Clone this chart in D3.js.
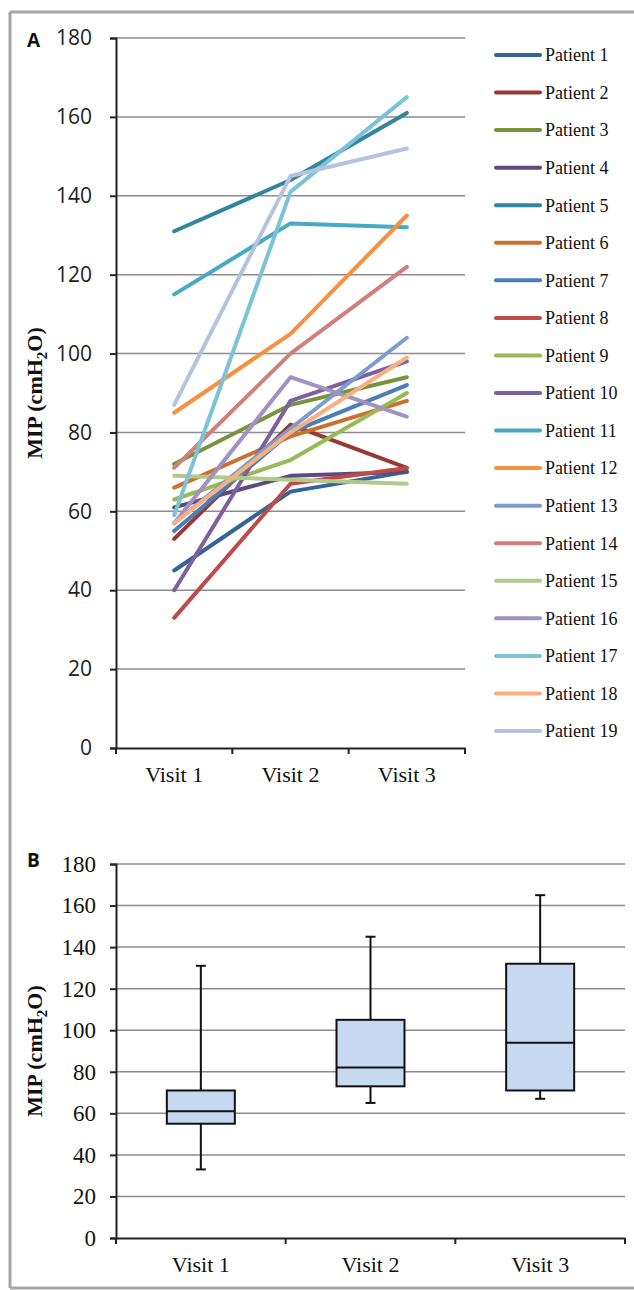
<!DOCTYPE html>
<html><head><meta charset="utf-8">
<script src="https://cdn.jsdelivr.net/npm/d3@7"></script>
<style>html,body{margin:0;padding:0;background:#fff;}svg{display:block;}</style>
</head><body>
<script>
const visits = ["Visit 1", "Visit 2", "Visit 3"];
const patients = ["Patient 1","Patient 2","Patient 3","Patient 4","Patient 5","Patient 6","Patient 7","Patient 8","Patient 9","Patient 10","Patient 11","Patient 12","Patient 13","Patient 14","Patient 15","Patient 16","Patient 17","Patient 18","Patient 19"];
const visit1 = [45,53,72,61,131,66,55,33,63,40,115,85,57,71,69,57,59,57,87];
const visit2 = [65,82,87,69,144,79,80,67,73,88,133,105,81,100,68,94,141,80,145];
const visit3 = [70,71,94,70,161,88,92,71,90,98,132,135,104,122,67,84,165,99,152];
const colors = ["#36639a","#963a37","#77933c","#5f4a7e","#31859c","#cc7030","#4a7ebb","#be4b48","#98b954","#7d60a0","#46aac5","#f59140","#7c9ccd","#d07f7d","#afca8a","#a291c2","#7cc3da","#f9b07e","#b5c3de"];
const yTicks = [0,20,40,60,80,100,120,140,160,180];
// box plot statistics per visit
const boxMin = [33,65,67];
const boxQ1 = [55,73,71];
const boxMedian = [61,82,94];
const boxQ3 = [71,105,132];
const boxMax = [131,145,165];

const W = 634, H = 1290;
const svg = d3.select("body").append("svg").attr("width", W).attr("height", H);

// frame
const frame = svg.append("g").attr("stroke", "#a6a6a6").attr("stroke-width", 3);
frame.append("line").attr("x1", 10).attr("y1", 12).attr("x2", 10).attr("y2", 1288);
frame.append("line").attr("x1", 10).attr("y1", 12).attr("x2", 634).attr("y2", 12);
frame.append("line").attr("x1", 10).attr("y1", 1288).attr("x2", 634).attr("y2", 1288);

function yTitle(g, cx, cy) {
  const t = g.append("text").attr("transform", `translate(${cx},${cy}) rotate(-90)`)
    .attr("text-anchor", "middle").attr("font-family", "'Liberation Serif','Times New Roman',serif")
    .attr("font-weight", "bold").attr("font-size", 22).attr("fill", "#111");
  t.append("tspan").text("MIP (cmH");
  t.append("tspan").attr("font-size", 15).attr("dy", 5).text("2");
  t.append("tspan").attr("dy", -5).text("O)");
}

// ---------- Panel A ----------
const A = {l: 116, r: 465, t: 38, b: 748};
const xA = d3.scaleBand().domain(visits).range([A.l, A.r]);
const yA = d3.scaleLinear().domain([0, 180]).range([A.b, A.t]);
const gA = svg.append("g");

gA.append("g").selectAll("line").data(yTicks.filter(d => d > 0)).join("line")
  .attr("x1", A.l).attr("x2", A.r).attr("y1", d => yA(d)).attr("y2", d => yA(d))
  .attr("stroke", "#8c8c8c").attr("stroke-width", 1.5);

const axYA = gA.append("g").attr("transform", `translate(${A.l},0)`)
  .call(d3.axisLeft(yA).tickValues(yTicks).tickSize(6).tickPadding(18));
axYA.select(".domain").attr("stroke", "#222").attr("stroke-width", 2);
axYA.selectAll(".tick line").attr("stroke", "#222").attr("stroke-width", 2);
axYA.selectAll(".tick text").attr("font-family", "'Open Sans',sans-serif").attr("font-size", 21).attr("fill", "#222");

const axXA = gA.append("g").attr("transform", `translate(0,${A.b})`)
  .call(d3.axisBottom(xA).tickSize(0).tickPadding(18));
axXA.select(".domain").attr("stroke", "#222").attr("stroke-width", 2);
axXA.selectAll(".tick text").attr("font-family", "'Liberation Serif','Times New Roman',serif").attr("font-size", 22).attr("fill", "#111");
gA.append("g").selectAll("line").data(visits.map(v => xA(v)).concat([A.r])).join("line")
  .attr("x1", d => d).attr("x2", d => d).attr("y1", A.b).attr("y2", A.b + 6)
  .attr("stroke", "#222").attr("stroke-width", 2);

const series = patients.map((p, i) => ({name: p, color: colors[i], values: [visit1[i], visit2[i], visit3[i]]}));
const lineGen = d3.line().x((d, j) => xA(visits[j]) + xA.bandwidth() / 2).y(d => yA(d));
gA.append("g").selectAll("path").data(series).join("path")
  .attr("d", d => lineGen(d.values)).attr("fill", "none")
  .attr("stroke", d => d.color).attr("stroke-width", 4).attr("stroke-linecap", "round").attr("stroke-linejoin", "round");

// legend
const legY = d3.scalePoint().domain(patients).range([55, 731]);
const leg = gA.append("g").selectAll("g").data(series).join("g")
  .attr("transform", d => `translate(0,${legY(d.name)})`);
leg.append("line").attr("x1", 496).attr("x2", 540).attr("y1", 0).attr("y2", 0)
  .attr("stroke", d => d.color).attr("stroke-width", 4).attr("stroke-linecap", "round");
leg.append("text").attr("x", 545).attr("y", 0).attr("dy", "0.35em")
  .attr("font-family", "'Liberation Serif','Times New Roman',serif").attr("font-size", 18).attr("fill", "#111")
  .text(d => d.name);

gA.append("text").attr("x", 27).attr("y", 47).attr("font-family", "'Open Sans',Arial,sans-serif")
  .attr("font-weight", "bold").attr("font-size", 19).attr("fill", "#111").text("A");
yTitle(gA, 42, (A.t + A.b) / 2);

// ---------- Panel B ----------
const B = {l: 116, r: 625, t: 864, b: 1238};
const xB = d3.scaleBand().domain(visits).range([B.l, B.r]);
const yB = d3.scaleLinear().domain([0, 180]).range([B.b, B.t]);
const gB = svg.append("g");

gB.append("g").selectAll("line").data(yTicks.filter(d => d > 0)).join("line")
  .attr("x1", B.l).attr("x2", B.r).attr("y1", d => yB(d)).attr("y2", d => yB(d))
  .attr("stroke", "#8c8c8c").attr("stroke-width", 1.5);

const axYB = gB.append("g").attr("transform", `translate(${B.l},0)`)
  .call(d3.axisLeft(yB).tickValues(yTicks).tickSize(6).tickPadding(14));
axYB.select(".domain").attr("stroke", "#222").attr("stroke-width", 2);
axYB.selectAll(".tick line").attr("stroke", "#222").attr("stroke-width", 2);
axYB.selectAll(".tick text").attr("font-family", "'Liberation Serif','Times New Roman',serif").attr("font-size", 23).attr("fill", "#111");

const axXB = gB.append("g").attr("transform", `translate(0,${B.b})`)
  .call(d3.axisBottom(xB).tickSize(0).tickPadding(18));
axXB.select(".domain").attr("stroke", "#222").attr("stroke-width", 2);
axXB.selectAll(".tick text").attr("font-family", "'Liberation Serif','Times New Roman',serif").attr("font-size", 22).attr("fill", "#111");
gB.append("g").selectAll("line").data(visits.map(v => xB(v)).concat([B.r])).join("line")
  .attr("x1", d => d).attr("x2", d => d).attr("y1", B.b).attr("y2", B.b + 6)
  .attr("stroke", "#222").attr("stroke-width", 2);

const boxes = visits.map((v, i) => ({v, min: boxMin[i], q1: boxQ1[i], med: boxMedian[i], q3: boxQ3[i], max: boxMax[i]}));
const bw = 68, cap = 10;
const bg = gB.append("g").selectAll("g").data(boxes).join("g")
  .attr("transform", d => `translate(${xB(d.v) + xB.bandwidth() / 2},0)`);
bg.append("line").attr("x1", 0).attr("x2", 0).attr("y1", d => yB(d.max)).attr("y2", d => yB(d.min))
  .attr("stroke", "#111").attr("stroke-width", 2);
bg.append("line").attr("x1", -cap / 2).attr("x2", cap / 2).attr("y1", d => yB(d.max)).attr("y2", d => yB(d.max))
  .attr("stroke", "#111").attr("stroke-width", 2);
bg.append("line").attr("x1", -cap / 2).attr("x2", cap / 2).attr("y1", d => yB(d.min)).attr("y2", d => yB(d.min))
  .attr("stroke", "#111").attr("stroke-width", 2);
bg.append("rect").attr("x", -bw / 2).attr("width", bw).attr("y", d => yB(d.q3)).attr("height", d => yB(d.q1) - yB(d.q3))
  .attr("fill", "#c6d9f1").attr("stroke", "#111").attr("stroke-width", 2);
bg.append("line").attr("x1", -bw / 2).attr("x2", bw / 2).attr("y1", d => yB(d.med)).attr("y2", d => yB(d.med))
  .attr("stroke", "#111").attr("stroke-width", 2);

gB.append("text").attr("x", 27).attr("y", 867).attr("font-family", "'Open Sans',Arial,sans-serif")
  .attr("font-weight", "bold").attr("font-size", 19).attr("fill", "#111").text("B");
yTitle(gB, 42, (B.t + B.b) / 2);
</script>
</body></html>
